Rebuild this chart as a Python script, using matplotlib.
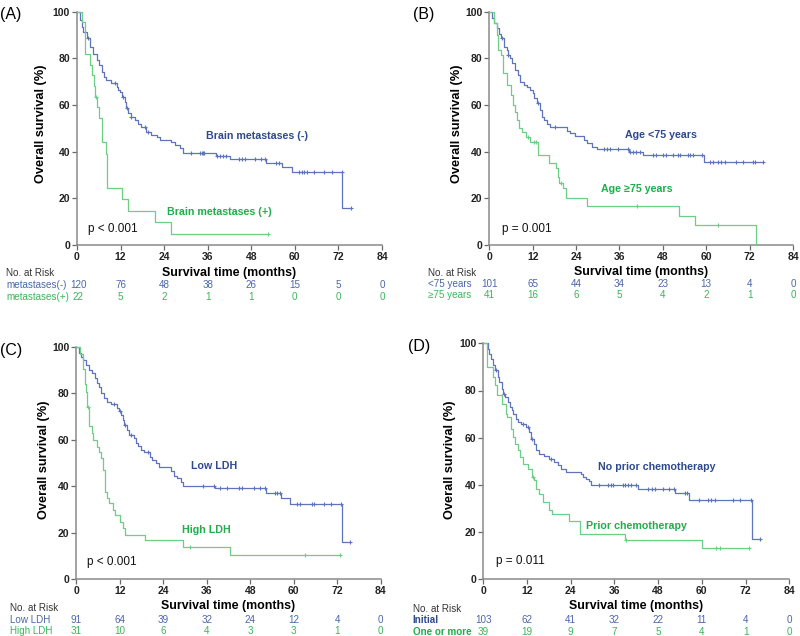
import numpy as np
import matplotlib
matplotlib.use("Agg")
import matplotlib.pyplot as plt
from matplotlib.transforms import blended_transform_factory

plt.rcParams['font.family'] = ['Liberation Sans', 'DejaVu Sans']

W, H = 800, 636

# ---------------- data ----------------
x_ticks = [0, 12, 24, 36, 48, 60, 72, 84]
y_ticks = [0, 20, 40, 60, 80, 100]

# Panel A
A_neg_t = [0.8, 1.3, 1.7, 2.7, 3.6, 4.5, 5.4, 6.0, 6.8, 7.5, 8.1, 9.5, 10.9, 11.3, 11.8, 12.4, 13.2, 13.6, 14.1,
           15.0, 15.9, 16.8, 17.7, 19.1, 20.5, 21.9, 22.8, 26.0, 26.9, 28.3, 29.2, 38.2, 42.0, 52.1, 56.4, 59.1, 73.1]
A_neg_s = [96.4, 93.6, 91.4, 88.6, 85.0, 81.7, 79.3, 77.0, 74.3, 72.0, 70.7, 69.3, 67.9, 66.4, 65.4, 63.6, 61.4,
           58.6, 56.4, 55.0, 53.6, 52.0, 50.7, 48.6, 47.0, 46.4, 45.0, 44.3, 42.9, 41.4, 39.4, 38.1, 36.9, 35.3,
           33.3, 31.4, 15.7]
A_neg_c = [3.1, 10.4, 12.7, 13.8, 15.0, 18.7, 19.6, 31.5, 33.8, 34.3, 34.7, 35.1, 38.5, 39.4, 40.2, 41.1, 44.7,
           45.5, 46.3, 48.9, 50.7, 51.8, 54.8, 55.7, 61.2, 61.9, 62.6, 63.3, 65.3, 68.1, 70.1, 72.9, 75.4]
A_pos_t = [1.5, 2.2, 3.6, 4.0, 4.6, 5.0, 5.6, 6.0, 6.8, 7.9, 8.3, 12.3, 14.1, 21.4, 26.0]
A_pos_s = [95.5, 81.8, 77.3, 72.7, 68.2, 63.6, 59.1, 54.4, 44.1, 39.0, 24.4, 19.6, 14.7, 9.8, 4.9]
A_pos_c = [5.2, 52.7]
A_risk_neg = [120, 76, 48, 38, 26, 15, 5, 0]
A_risk_pos = [22, 5, 2, 1, 1, 0, 0, 0]

# Panel B
B_lt_t = [0.7, 1.4, 2.1, 2.6, 3.2, 4.0, 4.9, 5.1, 5.8, 6.3, 7.2, 7.9, 8.6, 9.5, 10.4, 11.3, 12.0, 12.4, 13.2,
          14.0, 14.6, 15.0, 16.0, 16.9, 21.5, 22.4, 23.8, 26.1, 27.0, 28.4, 29.8, 38.7, 42.5, 59.3]
B_lt_s = [97.1, 95.0, 92.8, 90.3, 88.6, 85.0, 83.5, 81.4, 80.0, 77.8, 75.0, 72.8, 70.0, 68.5, 67.8, 66.4, 65.0,
          62.8, 60.7, 57.8, 55.0, 53.5, 52.0, 50.6, 48.8, 47.8, 46.6, 45.0, 43.6, 42.0, 41.0, 39.9, 38.3, 35.6]
B_lt_c = [3.5, 5.3, 13.5, 18.2, 31.7, 32.6, 33.5, 35.5, 38.5, 38.9, 39.8, 40.7, 41.6, 45.3, 46.2, 48.1, 49.0,
          50.8, 52.2, 52.7, 55.0, 55.5, 56.4, 58.7, 61.0, 61.9, 63.3, 64.2, 65.1, 68.3, 70.2, 72.9, 73.4, 75.7]
B_ge_t = [1.4, 2.0, 2.3, 3.2, 3.8, 4.9, 6.0, 6.5, 7.2, 7.7, 8.3, 9.0, 10.2, 11.3, 13.6, 16.4, 18.5, 18.9, 19.4,
          20.4, 21.1, 27.0, 52.5, 56.8, 73.7]
B_ge_s = [95.1, 90.2, 83.5, 81.4, 73.5, 68.5, 64.2, 59.9, 57.1, 53.5, 50.0, 48.5, 46.4, 44.2, 38.5, 34.9, 32.8,
          29.0, 26.3, 24.2, 20.2, 16.6, 12.4, 8.3, 0.0]
B_ge_c = [10.6, 12.3, 13.0, 19.8, 40.9, 63.3]
B_risk_lt = [101, 65, 44, 34, 23, 13, 4, 0]
B_risk_ge = [41, 16, 6, 5, 4, 2, 1, 0]

# Panel C
C_low_t = [0.7, 1.4, 1.9, 2.6, 3.5, 4.4, 5.1, 5.6, 6.3, 6.7, 7.6, 8.6, 9.5, 11.1, 11.8, 12.4, 13.0, 13.3, 13.9,
           14.5, 15.9, 16.4, 17.0, 17.8, 18.7, 20.3, 21.0, 21.9, 22.8, 26.0, 27.0, 27.9, 28.8, 29.5, 38.3, 52.3,
           56.6, 59.1, 73.2]
C_low_s = [97.1, 95.7, 94.3, 92.1, 90.0, 88.6, 86.5, 84.5, 82.8, 80.0, 77.8, 76.4, 75.4, 73.5, 72.3, 70.6, 68.5,
           66.3, 64.2, 62.0, 60.7, 58.6, 57.1, 55.7, 54.7, 52.7, 51.3, 49.9, 48.4, 46.4, 44.6, 43.6, 42.0, 40.3,
           39.1, 37.0, 34.8, 32.2, 16.0]
C_low_c = [10.4, 12.0, 13.5, 15.2, 19.8, 35.0, 38.0, 39.6, 41.5, 44.9, 45.6, 49.0, 50.7, 52.0, 54.8, 55.5, 56.2,
           61.0, 61.7, 65.0, 65.7, 68.4, 70.3, 73.0, 75.5]
C_high_t = [1.0, 1.8, 2.3, 2.6, 2.9, 3.5, 4.2, 4.7, 5.6, 6.3, 6.8, 7.4, 7.9, 8.4, 9.1, 10.2, 10.7, 12.1, 12.9,
            13.4, 19.0, 29.5, 42.4]
C_high_s = [96.8, 90.3, 83.9, 80.6, 74.2, 65.9, 63.0, 59.9, 57.0, 54.9, 52.0, 47.0, 37.7, 34.8, 32.7, 29.8, 27.7,
            24.8, 22.2, 19.1, 16.9, 14.0, 10.5]
C_high_c = [3.1, 31.4, 63.1, 72.8]
C_risk_low = [91, 64, 39, 32, 24, 12, 4, 0]
C_risk_high = [31, 10, 6, 4, 3, 3, 1, 0]

# Panel D
D_no_t = [1.2, 1.6, 2.1, 2.6, 3.2, 3.9, 4.4, 5.0, 5.4, 5.9, 6.7, 7.4, 7.8, 8.2, 9.0, 9.4, 10.3, 11.7, 12.6, 13.1,
          13.8, 14.4, 15.4, 16.7, 18.1, 19.5, 20.4, 21.3, 22.7, 26.8, 27.3, 28.2, 29.1, 29.6, 42.5, 52.6, 56.6,
          73.7]
D_no_s = [97.7, 95.6, 93.5, 90.7, 88.6, 85.7, 83.6, 80.8, 78.7, 77.3, 75.1, 73.0, 71.6, 69.9, 68.1, 66.7, 65.7,
          64.5, 62.4, 59.6, 57.5, 54.7, 53.3, 52.1, 51.1, 49.7, 48.3, 46.9, 45.5, 44.8, 43.4, 42.7, 41.7, 39.8,
          38.4, 36.6, 33.5, 17.0]
D_no_c = [3.5, 5.6, 10.8, 12.2, 13.3, 18.6, 31.8, 34.3, 35.0, 35.7, 38.4, 38.9, 39.8, 40.6, 41.8, 45.3, 46.2,
          47.1, 49.4, 50.9, 52.4, 55.3, 55.8, 59.2, 61.8, 62.5, 63.6, 68.6, 70.4, 73.5, 75.9]
D_pr_t = [1.0, 2.6, 3.3, 3.8, 5.0, 6.1, 6.4, 7.6, 8.1, 8.8, 9.4, 10.2, 10.8, 12.2, 13.5, 14.0, 14.5, 15.4, 16.3,
          18.1, 18.8, 23.6, 26.6, 39.0, 59.9]
D_pr_s = [90.0, 85.7, 82.2, 78.0, 74.4, 70.2, 68.8, 63.8, 60.3, 57.5, 54.7, 51.8, 49.0, 46.9, 43.4, 42.0, 38.4,
          36.3, 32.8, 29.2, 27.5, 24.6, 19.1, 16.5, 13.3]
D_pr_c = [13.7, 39.3, 64.0, 65.0, 73.0]
D_risk_no = [103, 62, 41, 32, 22, 11, 4, 0]
D_risk_pr = [39, 19, 9, 7, 5, 4, 1, 0]

# ---------------- styles ----------------
BLUE_LINE = '#5e74bd'
GREEN_LINE = '#6ccf86'
BLUE_TXT = '#2d4a8a'
GREEN_TXT = '#1fae4b'
BLUE_NUM = '#4a67a8'
GREEN_NUM = '#3bb55a'
RISK_FS = 7.1

fig = plt.figure(figsize=(W / 100, H / 100), dpi=100)


def fx(px):
    return px / W


def fy(py):
    return 1 - py / H


def step_value(t_list, s_list, t):
    v = 100.0
    for tt, ss in zip(t_list, s_list):
        if tt <= t:
            v = ss
    return v


def draw_curve(ax, t_list, s_list, c_list, color):
    end = max([t_list[-1]] + list(c_list))
    xs = [0] + list(t_list) + [end]
    ys = [100] + list(s_list) + [s_list[-1]]
    ax.step(xs, ys, where='post', color=color, lw=0.9, clip_on=False, zorder=3)
    cy = [step_value(t_list, s_list, c) for c in c_list]
    ax.plot(c_list, cy, ls='none', marker='+', ms=3.5, mew=0.8, color=color, clip_on=False, zorder=4)


def make_panel(box, letter, letter_xy, curves, labels, ptext, ppos, risk, ylabel_xy, xlabel_y):
    l, t, r, b = box
    ax = fig.add_axes([fx(l), fy(b), (r - l) / W, (b - t) / H])
    for (tl, sl, cl, col) in curves:
        draw_curve(ax, tl, sl, cl, col)
    ax.set_xlim(0, 84)
    ax.set_ylim(0, 100)
    ax.set_xticks(x_ticks)
    ax.set_yticks(y_ticks)
    for s in ['top', 'right']:
        ax.spines[s].set_visible(False)
    for s in ['left', 'bottom']:
        ax.spines[s].set_color('#8a8a8a')
        ax.spines[s].set_linewidth(1.1)
    ax.tick_params(axis='both', length=3.5, width=0.9, color='#6a6a6a', labelsize=7.5, pad=1.5,
                   labelcolor='#222222')
    for lab in ax.get_xticklabels() + ax.get_yticklabels():
        lab.set_fontweight('bold')
    for (txt, x, y, col) in labels:
        ax.text(x, y, txt, color=col, fontsize=7.7, fontweight='bold', ha='center', va='center')
    ax.text(ppos[0], ppos[1], ptext, fontsize=8.5, ha='left', va='center', color='#111111')
    fig.text(fx(letter_xy[0]), fy(letter_xy[1]), letter, fontsize=11.5, ha='left', va='center')
    fig.text(fx(ylabel_xy[0]), fy(ylabel_xy[1]), 'Overall survival (%)', rotation=90, fontsize=9.2,
             fontweight='bold', ha='center', va='center')
    fig.text(fx((l + r) / 2), fy(xlabel_y), 'Survival time (months)', fontsize=8.9, fontweight='bold',
             ha='center', va='center')
    (lab_x, head_y, rows, first_x, bold_rows) = risk
    fig.text(fx(lab_x), fy(head_y), 'No. at Risk', fontsize=RISK_FS, ha='left', va='center', color='#333333')
    tr = blended_transform_factory(ax.transData, fig.transFigure)
    for (rname, vals, ry, col_lab, col_num) in rows:
        fig.text(fx(lab_x), fy(ry), rname, fontsize=RISK_FS, ha='left', va='center', color=col_lab,
                 fontweight='bold' if bold_rows else 'normal')
        for i, (xt, v) in enumerate(zip(x_ticks, vals)):
            xx = first_x if i == 0 else xt
            ax.text(xx, fy(ry), str(v), transform=tr, fontsize=RISK_FS, ha='center', va='center', color=col_num)
    return ax


# Panel A
make_panel((77, 11.7, 382, 245), '(A)', (0, 14),
           [(A_neg_t, A_neg_s, A_neg_c, BLUE_LINE), (A_pos_t, A_pos_s, A_pos_c, GREEN_LINE)],
           [('Brain metastases (-)', 49.7, 46.7, BLUE_TXT), ('Brain metastases (+)', 39.3, 14.1, GREEN_TXT)],
           'p < 0.001', (3.0, 6.9),
           (6, 273, [('metastases(-)', A_risk_neg, 285.5, BLUE_NUM, BLUE_NUM),
                     ('metastases(+)', A_risk_pos, 297, GREEN_NUM, GREEN_NUM)], 0.4, False),
           (41, 124), 273)

# Panel B
make_panel((489.3, 11.7, 793, 244.7), '(B)', (413, 15),
           [(B_lt_t, B_lt_s, B_lt_c, BLUE_LINE), (B_ge_t, B_ge_s, B_ge_c, GREEN_LINE)],
           [('Age <75 years', 47.5, 47.1, BLUE_TXT), ('Age \u226575 years', 40.8, 24.0, GREEN_TXT)],
           'p = 0.001', (3.4, 6.9),
           (428, 272.5, [('<75 years', B_risk_lt, 284.3, BLUE_NUM, BLUE_NUM),
                         ('\u226575 years', B_risk_ge, 295.3, GREEN_NUM, GREEN_NUM)], 0, False),
           (457, 124), 272)

# Panel C
make_panel((76.3, 346.7, 380.7, 579.3), '(C)', (0, 350.7),
           [(C_low_t, C_low_s, C_low_c, BLUE_LINE), (C_high_t, C_high_s, C_high_c, GREEN_LINE)],
           [('Low LDH', 38.0, 48.8, BLUE_TXT), ('High LDH', 35.9, 21.2, GREEN_TXT)],
           'p < 0.001', (3.0, 7.6),
           (10, 608, [('Low LDH', C_risk_low, 620, BLUE_NUM, BLUE_NUM),
                      ('High LDH', C_risk_high, 631.5, GREEN_NUM, GREEN_NUM)], 0, False),
           (43.5, 460), 606)

# Panel D
make_panel((483.3, 343.3, 789.3, 579.3), '(D)', (408, 346.7),
           [(D_no_t, D_no_s, D_no_c, BLUE_LINE), (D_pr_t, D_pr_s, D_pr_c, GREEN_LINE)],
           [('No prior chemotherapy', 47.6, 47.7, BLUE_TXT), ('Prior chemotherapy', 42.0, 22.6, GREEN_TXT)],
           'p = 0.011', (3.4, 7.9),
           (412.7, 609, [('Initial', D_risk_no, 620.3, BLUE_TXT, BLUE_NUM),
                         ('One or more', D_risk_pr, 631.7, GREEN_TXT, GREEN_NUM)], 0, True),
           (450.5, 460), 605.5)

fig.savefig('out.png', dpi=100, facecolor='white')
